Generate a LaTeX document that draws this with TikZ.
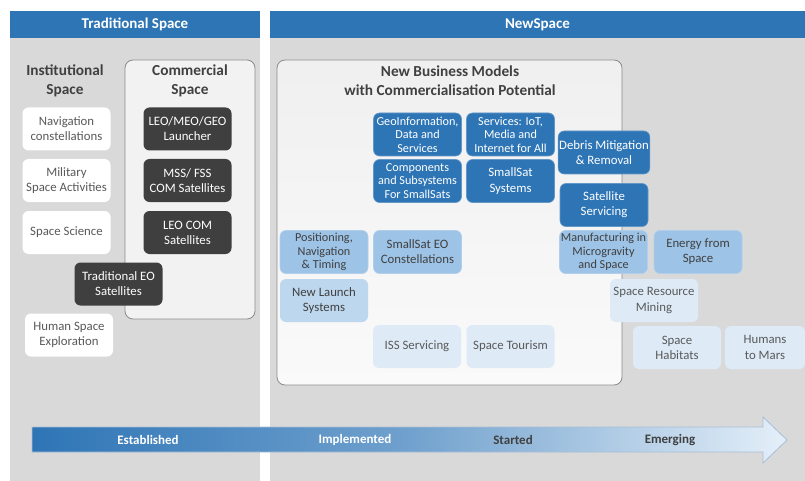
\documentclass[tikz,border=0pt]{standalone}
\usepackage{fontspec}
\setmainfont{Carlito}
\definecolor{hdrblue}{HTML}{2E75B6}
\definecolor{panelgray}{HTML}{D9D9D9}
\definecolor{darkbox}{HTML}{3F3F3F}
\definecolor{midblue}{HTML}{9DC3E6}
\definecolor{liteblue}{HTML}{BDD7EE}
\definecolor{paleblue}{HTML}{DEEBF7}
\definecolor{txtgray}{HTML}{595959}
\definecolor{txtdark}{HTML}{404040}
\definecolor{framegray}{HTML}{8C8C8C}
\definecolor{arrowedge}{HTML}{A9BED6}

\begin{document}
\begin{tikzpicture}[x=1pt,y=-1pt,
    card/.style={rounded corners=6pt, minimum width=88pt, minimum height=43pt,
      inner sep=1pt, align=center, font=\fontsize{12.8}{15.2}\selectfont},
    tight/.style={font=\fontsize{12.2}{13.6}\selectfont},
    instbox/.style={card, fill=white, text=txtgray},
    combox/.style={card, fill=darkbox, text=white},
    newbox/.style={card, fill=hdrblue, draw=hdrblue!75!white, line width=.6pt, text=white},
    midbox/.style={card, fill=midblue, draw=midblue!80!white, line width=.6pt, text=txtdark},
    litebox/.style={card, fill=liteblue, text=txtdark},
    palebox/.style={card, fill=paleblue, text=txtgray},
    header/.style={fill=hdrblue, text=white, minimum height=27pt, inner sep=0pt,
      font=\fontsize{15}{17}\selectfont\bfseries},
    frame/.style={rounded corners=8pt, draw=framegray, line width=.8pt, inner sep=0pt},
    title/.style={align=center, text=txtdark, font=\fontsize{15.3}{18.5}\selectfont\bfseries},
    tlabel/.style={font=\fontsize{13}{15}\selectfont\bfseries}]

  \useasboundingbox (0,0) rectangle (805,481);
  \fill[panelgray] (10,11) rectangle (260,481);
  \fill[panelgray] (270,11) rectangle (805,481);

  \node[header, minimum width=250pt] (trad) at (135,24.5) {Traditional Space};
  \node[header, minimum width=535pt] (news) at (537.5,24.5) {NewSpace};

  \node[frame, fill=black!5, minimum width=130pt, minimum height=259pt] (commframe) at (190,189.5) {};
  \node[frame, top color=black!6, bottom color=black!2, minimum width=345pt, minimum height=325pt] (bizframe) at (449.5,222.5) {};

  \node[title] (inst) at (65,81) {Institutional\\Space};
  \node[title] (comm) at (190,81) {Commercial\\Space};
  \node[title] (biz)  at (450,80.5) {New Business Models\\with Commercialisation Potential};

  \node[instbox] (navc)  at (66.5,129)   {Navigation\\constellations};
  \node[instbox] (milit) at (66.5,180.5) {Military\\Space Activities};
  \node[instbox] (sci)   at (66.5,232.5) {Space Science};
  \node[instbox] (human) at (69,335)     {Human Space\\Exploration};

  \node[combox] (launch) at (187.5,129)   {LEO/MEO/GEO\\Launcher};
  \node[combox] (mss)    at (187.5,180.5) {MSS/ FSS\\COM Satellites};
  \node[combox] (leocom) at (187.5,232.5) {LEO COM\\Satellites};
  \node[combox] (treo)   at (118.5,284)   {Traditional EO\\Satellites};

  \node[newbox, tight] (geo)     at (417.5,134.5) {GeoInformation,\\Data and\\Services};
  \node[newbox, tight] (iot)     at (510.5,134.5) {Services: IoT,\\Media and\\Internet for All};
  \node[newbox, tight] (comp)    at (417.5,181)   {Components\\and Subsystems\\For SmallSats};
  \node[newbox]        (sss)     at (510.5,181)   {SmallSat\\Systems};
  \node[newbox]        (debris)  at (604,152.5)   {Debris Mitigation\\\& Removal};
  \node[newbox]        (satserv) at (604,205)     {Satellite\\Servicing};

  \node[midbox, tight] (pnt)    at (324,252)   {Positioning,\\Navigation\\\& Timing};
  \node[midbox]        (smeo)   at (417.5,252) {SmallSat EO\\Constellations};
  \node[midbox, tight] (manu)   at (603.5,252) {Manufacturing in\\Microgravity\\and Space};
  \node[midbox]        (energy) at (698,252)   {Energy from\\Space};
  \node[litebox]       (newlau) at (324,300.5) {New Launch\\Systems};

  \node[palebox] (iss)     at (417,346.5) {ISS Servicing};
  \node[palebox] (tour)    at (510.5,346.5) {Space Tourism};
  \node[palebox] (mining)  at (654,300.5) {Space Resource\\Mining};
  \node[palebox] (habitat) at (677,347.5) {Space\\Habitats};
  \node[palebox, minimum width=80pt] (mars) at (765,347.5) {Humans\\to Mars};

  \shade[left color=hdrblue, right color=paleblue!80!white, middle color=hdrblue!68!white,
    draw=arrowedge, line width=.8pt]
    (32,427) -- (763,427) -- (763,417) -- (787,440) -- (763,463) -- (763,452) -- (32,452) -- cycle;
  \node[tlabel, text=white]   (estab)  at (148,440) {Established};
  \node[tlabel, text=white]   (implem) at (355,440) {Implemented};
  \node[tlabel, text=txtdark] (start)  at (513,440) {Started};
  \node[tlabel, text=txtdark] (emerg)  at (670,440) {Emerging};
\end{tikzpicture}
\end{document}
